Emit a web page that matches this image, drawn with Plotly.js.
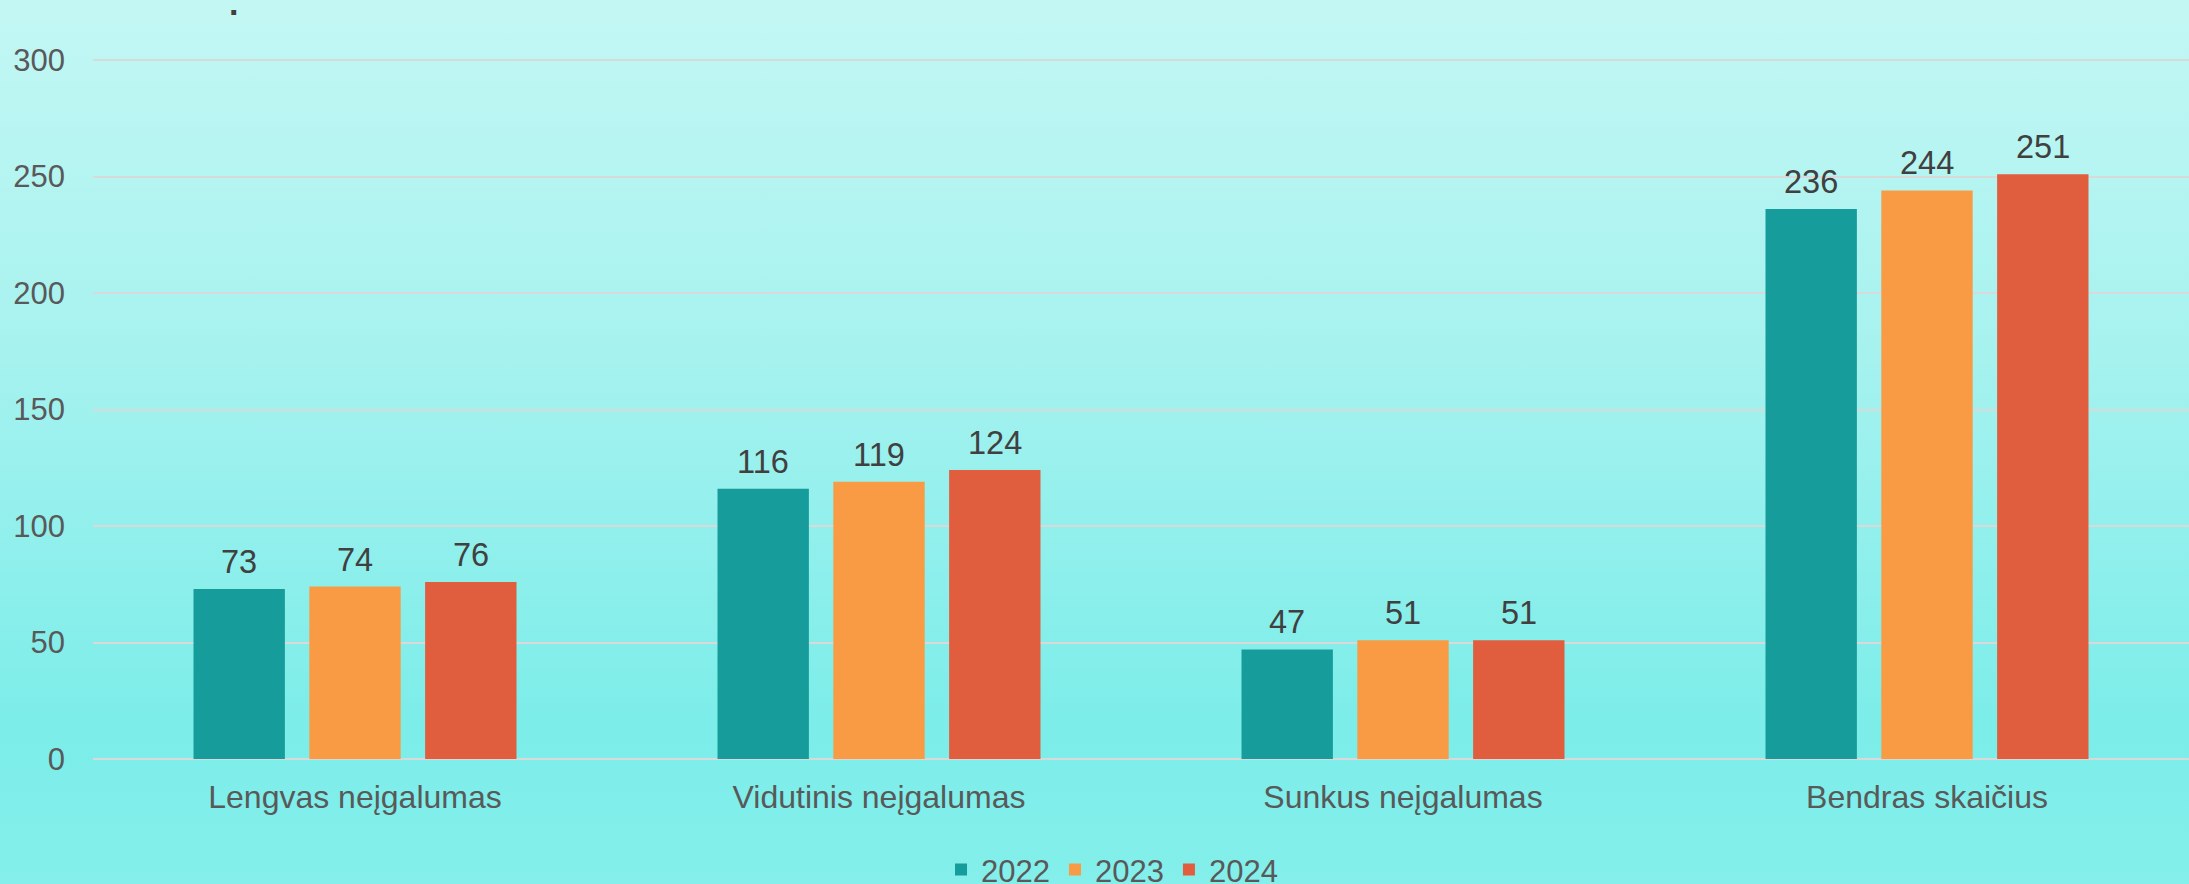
<!DOCTYPE html>
<html>
<head>
<meta charset="utf-8">
<script src="https://cdn.plot.ly/plotly-3.0.1.min.js"></script>
<style>
  html, body { margin: 0; padding: 0; width: 2189px; height: 884px; overflow: hidden;
    background: linear-gradient(to bottom, #C3F7F4 0%, #A6F2EF 40%, #7CEDE9 82%, #84EFEB 100%); }
  #chart { width: 2189px; height: 884px; }
</style>
</head>
<body>
<div id="chart"></div>
<script>
const categories = ["Lengvas neįgalumas", "Vidutinis neįgalumas", "Sunkus neįgalumas", "Bendras skaičius"];
const seriesNames = ["2022", "2023", "2024"];
const values2022 = [73, 116, 47, 236];
const values2023 = [74, 119, 51, 244];
const values2024 = [76, 124, 51, 251];
const colors = ["#169C9A", "#F99B45", "#E05D3E"];
const yTicks = [0, 50, 100, 150, 200, 250, 300];

const BARGAP = 0.337;
const BARGROUPGAP = 0.211;
const allValues = [values2022, values2023, values2024];

const traces = allValues.map((vals, i) => ({
  type: "bar",
  name: seriesNames[i],
  x: categories,
  y: vals,
  marker: { color: colors[i], line: { width: 0 } },
  hoverinfo: "skip"
}));

// value labels above each bar, positioned through the category/linear axes
const slot = (1 - BARGAP) / allValues.length;
const labelAnnotations = [];
allValues.forEach((vals, i) => {
  vals.forEach((v, j) => {
    labelAnnotations.push({
      xref: "x", yref: "y",
      x: j + (i - (allValues.length - 1) / 2) * slot,
      y: v,
      text: String(v),
      showarrow: false,
      xanchor: "center", yanchor: "bottom",
      yshift: 7,
      font: { family: "Liberation Sans, Arial, sans-serif", size: 32.5, color: "#404040" }
    });
  });
});

const layout = {
  width: 2189,
  height: 884,
  paper_bgcolor: "rgba(0,0,0,0)",
  plot_bgcolor: "rgba(0,0,0,0)",
  margin: { l: 93, r: 0, t: 0, b: 125 },
  barmode: "group",
  bargap: BARGAP,
  bargroupgap: BARGROUPGAP,
  font: { family: "Liberation Sans, Arial, sans-serif", size: 31, color: "#595959" },
  xaxis: {
    type: "category",
    showgrid: false,
    showline: false,
    zeroline: false,
    ticks: "",
    ticklabelstandoff: 16,
    tickfont: { size: 32, color: "#595959" }
  },
  yaxis: {
    range: [0, 325.75],
    tickvals: yTicks,
    ticktext: yTicks.map(String),
    showgrid: true,
    gridcolor: "#D9D9D9",
    gridwidth: 2,
    zeroline: true,
    zerolinecolor: "#D9D9D9",
    zerolinewidth: 2,
    showline: false,
    ticks: "",
    ticklabelstandoff: 27,
    tickfont: { size: 31, color: "#595959" }
  },
  showlegend: true,
  legend: {
    orientation: "h",
    xref: "container",
    yref: "container",
    x: 0.508,
    xanchor: "center",
    y: 0.016,
    yanchor: "middle",
    font: { size: 31, color: "#595959" },
    bgcolor: "rgba(0,0,0,0)",
    traceorder: "normal"
  },
  annotations: labelAnnotations.concat([{
    text: "<b>.</b>",
    xref: "paper", yref: "paper",
    x: 0.0668, y: 0.996,
    xanchor: "center", yanchor: "middle",
    showarrow: false,
    font: { size: 34, color: "#404040" }
  }])
};

Plotly.newPlot("chart", traces, layout, { displayModeBar: false, staticPlot: true });
</script>
</body>
</html>
